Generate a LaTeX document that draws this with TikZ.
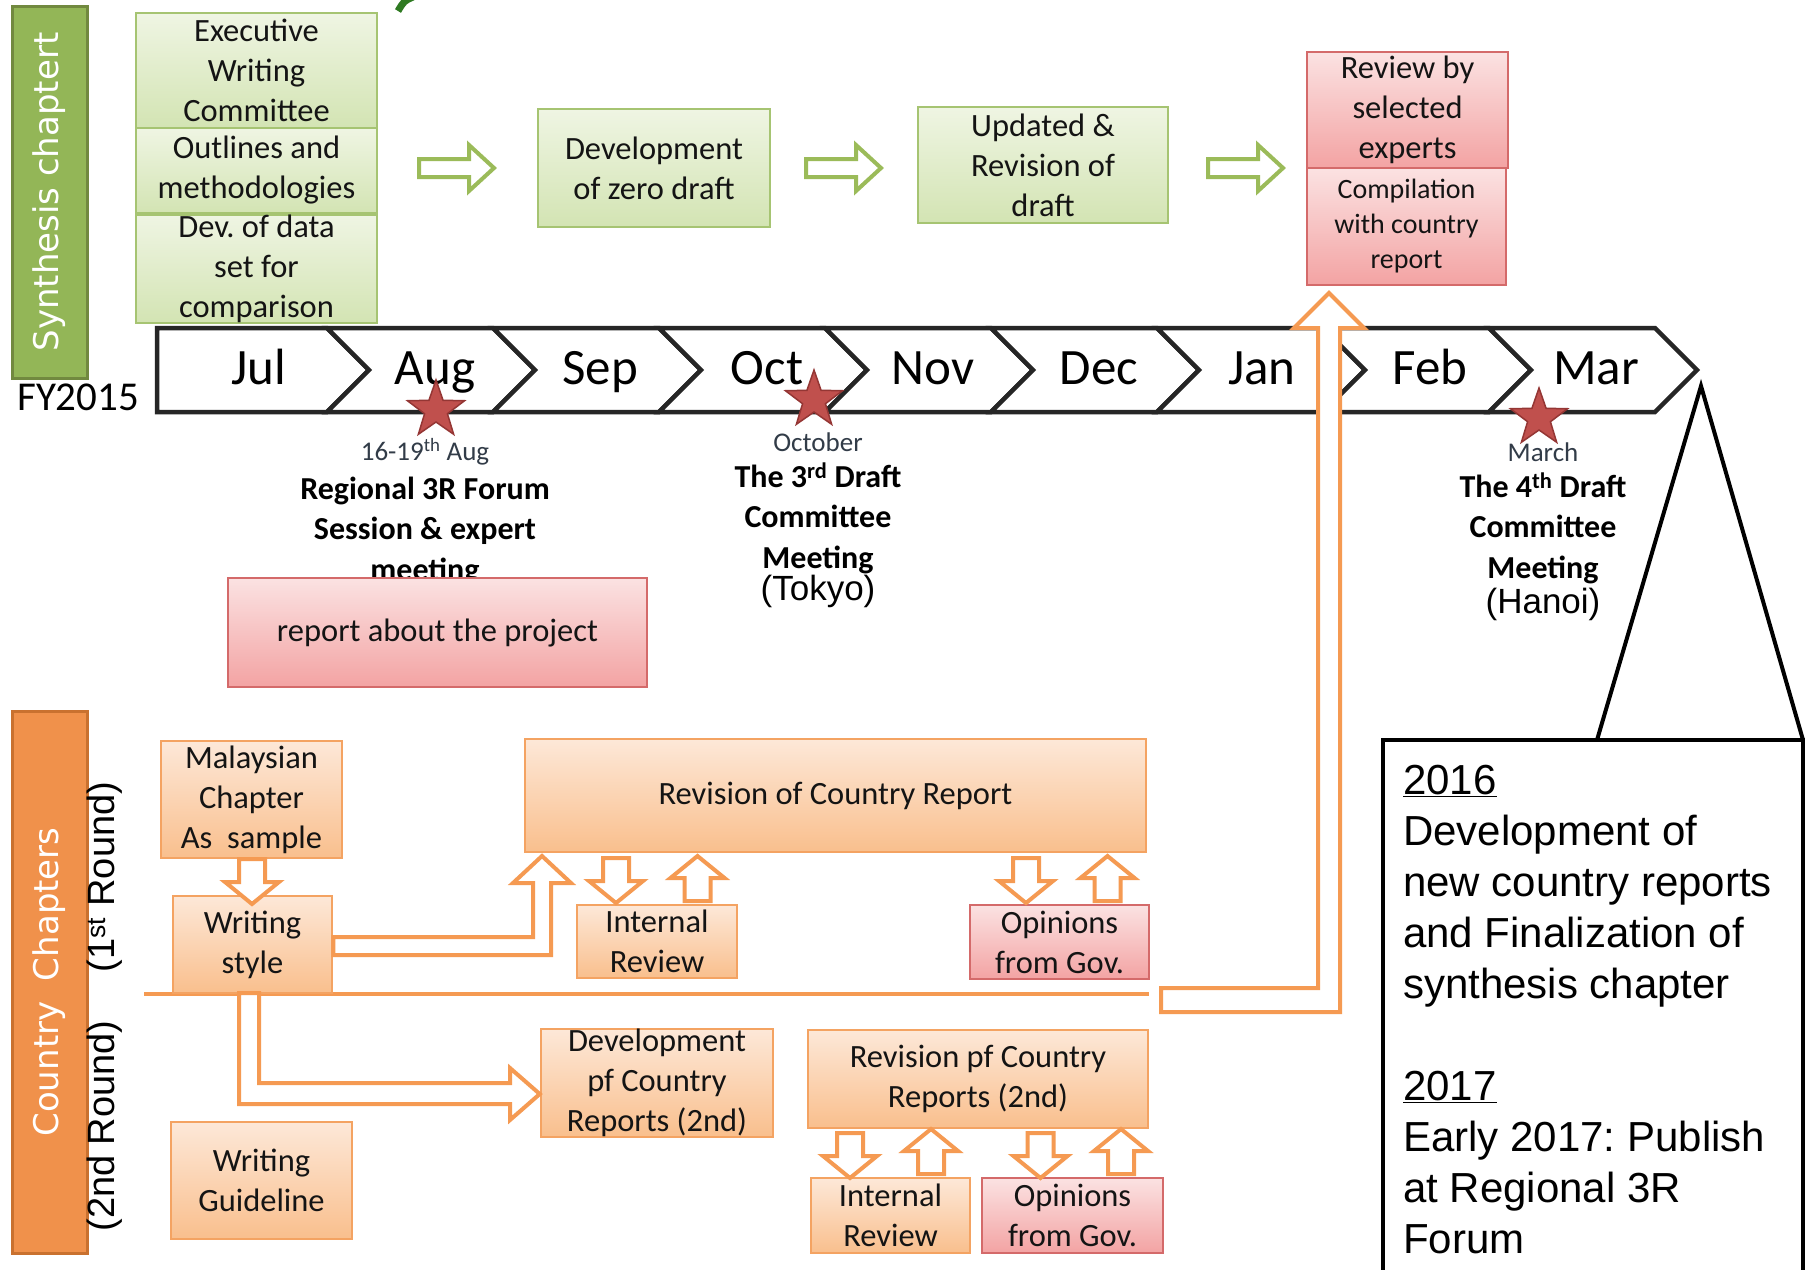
\documentclass[tikz,border=0pt]{standalone}
\usepackage{fontspec}
\setmainfont{Carlito}
\newfontfamily\arialfam{Liberation Sans}
\newfontfamily\dejafam{DejaVu Sans}
\usetikzlibrary{shapes.geometric}
\frenchspacing

\definecolor{gbar}{HTML}{93B657}
\definecolor{gbarD}{HTML}{71893F}
\definecolor{gtop}{HTML}{EFF5E3}
\definecolor{gbot}{HTML}{D3E4B3}
\definecolor{gline}{HTML}{A6C472}
\definecolor{ptop}{HTML}{FBE2E2}
\definecolor{pbot}{HTML}{F3A3A3}
\definecolor{pline}{HTML}{D46A6A}
\definecolor{otop}{HTML}{FDE8D8}
\definecolor{obot}{HTML}{F9BF8D}
\definecolor{oline}{HTML}{F4A362}
\definecolor{obar}{HTML}{F0914B}
\definecolor{obarD}{HTML}{C9712F}
\definecolor{oarr}{HTML}{F59A52}
\definecolor{garr}{HTML}{9BBB59}
\definecolor{starR}{HTML}{C0504D}
\definecolor{starD}{HTML}{943634}
\definecolor{evgray}{HTML}{323C48}
\definecolor{txt}{HTML}{141414}
\definecolor{dgreen}{HTML}{2F7A22}

\newcommand\fBox{\fontsize{32.5}{40}\selectfont}
\newcommand\fSmallBox{\fontsize{28}{35}\selectfont}
\newcommand\fMonth{\fontsize{51}{60}\selectfont}
\newcommand\fEv{\fontsize{27}{32}\selectfont}
\newcommand\fEvB{\fontsize{32}{40.5}\selectfont\bfseries}
\newcommand\fCity{\arialfam\fontsize{35}{40}\selectfont}
\newcommand\fCall{\arialfam\fontsize{42}{51}\selectfont}
\newcommand\fRound{\arialfam\fontsize{38}{44}\selectfont}
\newcommand\fBar{\dejafam\fontsize{34}{40}\selectfont}
\newcommand\fFY{\fontsize{41}{48}\selectfont}

% block arrows
\newcommand\grarrow[2]{% x0, y centre: right-pointing
  \draw[garrow] (#1,#2-9) -- ++(50,0) -- ++(0,-14) -- ++(25,23) -- ++(-25,23) -- ++(0,-14) -- ++(-50,0) -- cycle;}
\newcommand\odarrow[2]{% cx, top: down-pointing
  \draw[oarrow] (#1-13,#2) -- (#1+13,#2) -- (#1+13,#2+23) -- (#1+27,#2+23) -- (#1,#2+45) -- (#1-27,#2+23) -- (#1-13,#2+23) -- cycle;}
\newcommand\ouarrow[2]{% cx, top: up-pointing
  \draw[oarrow] (#1,#2) -- (#1+27,#2+22) -- (#1+13,#2+22) -- (#1+13,#2+45) -- (#1-13,#2+45) -- (#1-13,#2+22) -- (#1-27,#2+22) -- cycle;}

\begin{document}
\begin{tikzpicture}[x=1pt,y=-1pt,
  box/.style={line width=2.5, align=center, inner xsep=3, inner ysep=0, font=\fBox, text=txt},
  gbox/.style={box, draw=gline, top color=gtop, bottom color=gbot},
  pbox/.style={box, draw=pline, top color=ptop, bottom color=pbot},
  obox/.style={box, draw=oline, top color=otop, bottom color=obot},
  chev/.style={draw=black!85, fill=white, line width=4.5},
  month/.style={font=\fMonth, text=black, anchor=base},
  garrow/.style={draw=garr, fill=white, line width=4},
  oarrow/.style={draw=oarr, fill=white, line width=4},
  evsmall/.style={font=\fEv, text=evgray, inner sep=0},
  evbold/.style={font=\fEvB, text=black, align=center, inner sep=0},
  city/.style={font=\fCity, text=black, inner sep=0},
  redstar/.style={star, star points=5, star point ratio=2.5, minimum size=60, inner sep=0, fill=starR, draw=starD, line width=1.5}
]
\useasboundingbox[fill=white] (0,0) rectangle (1806,1269);

% ---------- side bars ----------
\node[draw=gbarD, fill=gbar, line width=3, minimum width=75, minimum height=372, inner sep=0] (synbar) at (49.5,192) {};
\node[rotate=90, font=\fBar, text=white] (synlab) at (synbar.center) {Synthesis chaptert};
\node[draw=obarD, fill=obar, line width=3, minimum width=75, minimum height=542, inner sep=0] (cbar) at (49.5,982) {};
\node[rotate=90, font=\fBar, text=white] (clab) at (cbar.center) {Country\hspace{0.6em}Chapters};
\node[rotate=90, font=\fRound, text=black] (r1) at (105,877) {(1\textsuperscript{st} Round)};
\node[rotate=90, font=\fRound, text=black] (r2) at (105,1126) {(2nd Round)};

% ---------- synthesis row ----------
\node[gbox, minimum width=241, minimum height=115] (exec) at (256.5,70.5) {Executive\\Writing\\Committee};
\node[gbox, minimum width=241, minimum height=85] (outl) at (256.5,170.5) {Outlines and\\methodologies};
\node[gbox, minimum width=241, minimum height=108] (devd) at (256.5,269) {Dev. of data\\set for\\comparison};
\node[gbox, minimum width=232, minimum height=118] (zero) at (654,168) {Development\\of zero draft};
\node[gbox, minimum width=250, minimum height=116] (upd) at (1043,165) {Updated \&\\Revision of\\draft};
\node[pbox, minimum width=201, minimum height=116] (revexp) at (1407.5,110) {Review by\\selected\\experts};
\node[pbox, minimum width=199, minimum height=117, font=\fSmallBox] (comp) at (1406.5,226.5) {Compilation\\with country\\report};

\grarrow{419}{168}
\grarrow{806}{168}
\grarrow{1208}{168}

% ---------- timeline ----------
\draw[chev] (157,328) -- (327,328) -- (369,370) -- (327,412) -- (157,412) -- cycle;
\foreach \i in {1,...,8} {
  \pgfmathsetmacro\L{327+166*(\i-1)}
  \pgfmathsetmacro\R{\L+166}
  \draw[chev] (\L,328) -- (\R,328) -- (\R+42,370) -- (\R,412) -- (\L,412) -- (\L+42,370) -- cycle;
}
\node[month] (mjul) at (259,384) {Jul};
\node[month] (maug) at (435,384) {Aug};
\node[month] (msep) at (600,384) {Sep};
\node[month] (moct) at (767,384) {Oct};
\node[month] (mnov) at (933,384) {Nov};
\node[month] (mdec) at (1099,384) {Dec};
\node[month] (mjan) at (1262,384) {Jan};
\node[month] (mfeb) at (1430,384) {Feb};
\node[month] (mmar) at (1596,384) {Mar};
\node[font=\fFY, anchor=base west, inner sep=0] (fy) at (17,410) {FY2015};

% ---------- events ----------
\node[evsmall] (augd) at (425,452) {16-19\textsuperscript{th} Aug};
\node[evbold] (augt) at (425,531) {Regional 3R Forum\\Session \& expert\\meeting};
\node[evsmall] (octd) at (818,442) {October};
\node[evbold] (octt) at (818,518) {The 3\textsuperscript{rd} Draft\\Committee\\Meeting};
\node[city] (tokyo) at (818,591) {(Tokyo)};
\node[evsmall] (mard) at (1543,452) {March};
\node[evbold] (mart) at (1543,528) {The 4\textsuperscript{th} Draft\\Committee\\Meeting};
\node[city] (hanoi) at (1543,604) {(Hanoi)};

\node[pbox, minimum width=419, minimum height=109] (report) at (437.5,632.5) {report about the project};

% ---------- callout ----------
\draw[line width=4, fill=white] (1597,740) -- (1701,386) -- (1803,740);
\draw[line width=4] (1383,740) rectangle (1803,1300);
\node[anchor=north west, align=left, font=\fCall, text=black, inner sep=0] (call) at (1403,765)
 {\underline{2016}\\Development of\\new country reports\\and Finalization of\\synthesis chapter\\[51pt]\underline{2017}\\Early 2017: Publish\\at Regional 3R\\Forum};

% ---------- country chapters ----------
\draw[draw=oarr, line width=4] (144,994) coordinate (divL) -- (1149,994) coordinate (divR);

\node[obox, minimum width=181, minimum height=117] (mal) at (251.5,799.5) {Malaysian\\Chapter\\As\ \ sample};
\node[obox, minimum width=159, minimum height=97] (ws) at (252.5,944.5) {Writing\\style};
\node[obox, minimum width=621, minimum height=113] (rev1) at (835.5,795.5) {Revision of Country Report};
\node[obox, minimum width=160, minimum height=73] (ir1) at (657,941.5) {Internal\\Review};
\node[pbox, minimum width=179, minimum height=74] (og1) at (1059.5,942) {Opinions\\from Gov.};
\node[obox, minimum width=232, minimum height=108] (dev2) at (657,1083) {Development\\pf Country\\Reports (2nd)};
\node[obox, minimum width=181, minimum height=117] (wg) at (261.5,1180.5) {Writing\\Guideline};
\node[obox, minimum width=340, minimum height=98] (rev2) at (978,1079) {Revision pf Country\\Reports (2nd)};
\node[obox, minimum width=159, minimum height=75] (ir2) at (890.5,1215.5) {Internal\\Review};
\node[pbox, minimum width=181, minimum height=75] (og2) at (1072.5,1215.5) {Opinions\\from Gov.};

% small block arrows
\odarrow{252}{859}
\odarrow{616}{858}
\ouarrow{697.5}{856}
\odarrow{1026}{858}
\ouarrow{1107.5}{856}
\odarrow{850}{1133}
\ouarrow{931}{1129}
\odarrow{1040.5}{1133}
\ouarrow{1121}{1129}

% L-shaped block arrows
\draw[oarrow] (ws.east |- 0,937) -- (533,937) -- (533,883) -- (513,883) -- (542,856) -- (571,883) -- (551,883) -- (551,955) -- (ws.east |- 0,955) -- cycle;
\draw[oarrow] (239,993) -- (239,1104) -- (510,1104) -- (510,1120) -- (dev2.west |- 0,1094) -- (510,1068) -- (510,1083) -- (259,1083) -- (259,993) -- cycle;
\draw[oarrow] (1161,988) -- (1318,988) -- (1318,328) -- (1294,328) -- (1329,293) -- (1364,328) -- (1340,328) -- (1340,1012) -- (1161,1012) -- cycle;

% ---------- stars ----------
\node[redstar] (st1) at (436,410) {};
\node[redstar] (st2) at (814,400) {};
\node[redstar] (st3) at (1539,418) {};

% ---------- fragment at top ----------
\draw[dgreen, line width=7] (413,-3) .. controls (404,1) .. (398,11);
\end{tikzpicture}
\end{document}
